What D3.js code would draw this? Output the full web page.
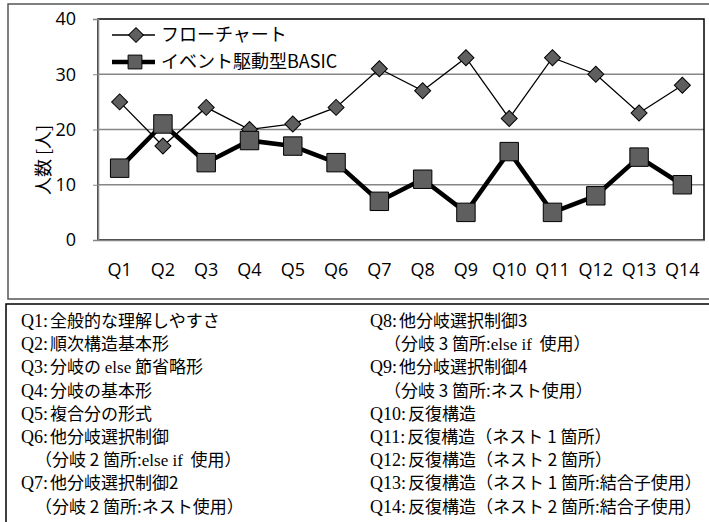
<!DOCTYPE html>
<html>
<head>
<meta charset="utf-8">
<script src="https://cdn.jsdelivr.net/npm/d3@7"></script>
<style>
  body { margin: 0; background: #fff; }
  svg { display: block; }
</style>
</head>
<body>
<div id="chart"></div>
<script>
const categories = ["Q1", "Q2", "Q3", "Q4", "Q5", "Q6", "Q7", "Q8", "Q9", "Q10", "Q11", "Q12", "Q13", "Q14"];
const flowchart = [25, 17, 24, 20, 21, 24, 31, 27, 33, 22, 33, 30, 23, 28];
const eventBasic = [13, 21, 14, 18, 17, 14, 7, 11, 5, 16, 5, 8, 15, 10];
const yTicks = [0, 10, 20, 30, 40];
const seriesNames = ["フローチャート", "イベント駆動型BASIC"];
const yLabel = "人数 [人]";

// notes below the chart: [label, text] (label null = continuation line)
const notesLeft = [
    ["Q1", "全般的な理解しやすさ"],
    ["Q2", "順次構造基本形"],
    ["Q3", "分岐の else 節省略形"],
    ["Q4", "分岐の基本形"],
    ["Q5", "複合分の形式"],
    ["Q6", "他分岐選択制御"],
    [null, "（分岐 2 箇所:else if  使用）"],
    ["Q7", "他分岐選択制御2"],
    [null, "（分岐 2 箇所:ネスト使用）"]
];
const notesRight = [
    ["Q8", "他分岐選択制御3"],
    [null, "（分岐 3 箇所:else if  使用）"],
    ["Q9", "他分岐選択制御4"],
    [null, "（分岐 3 箇所:ネスト使用）"],
    ["Q10", "反復構造"],
    ["Q11", "反復構造（ネスト 1 箇所）"],
    ["Q12", "反復構造（ネスト 2 箇所）"],
    ["Q13", "反復構造（ネスト 1 箇所:結合子使用）"],
    ["Q14", "反復構造（ネスト 2 箇所:結合子使用）"]
];

const W = 709, H = 522;
const plot = { left: 98, right: 704, top: 19, bottom: 240 };
const chartFont = "'Open Sans', 'Noto Sans CJK JP', sans-serif";
const jpFont = "'Noto Sans CJK JP', sans-serif";
const serifFont = "'Liberation Serif', 'DejaVu Serif', serif";
const markerFill = "#5f5f5f";

const svg = d3.select("#chart").append("svg")
    .attr("width", W)
    .attr("height", H);

// outer chart frame
svg.append("rect")
    .attr("x", 8).attr("y", 4)
    .attr("width", W + 10).attr("height", 295)
    .attr("fill", "none")
    .attr("stroke", "#555")
    .attr("stroke-width", 1.5);

const x = d3.scaleBand().domain(categories).range([plot.left, plot.right]);
const y = d3.scaleLinear().domain([0, 40]).range([plot.bottom, plot.top]);
const cx = c => x(c) + x.bandwidth() / 2;

// gridlines
svg.append("g")
    .selectAll("line")
    .data(yTicks.filter(t => t > 0 && t < 40))
    .enter().append("line")
    .attr("x1", plot.left).attr("x2", plot.right)
    .attr("y1", d => y(d)).attr("y2", d => y(d))
    .attr("stroke", "#868686")
    .attr("stroke-width", 1.5);

// plot area border
svg.append("rect")
    .attr("x", plot.left).attr("y", plot.top)
    .attr("width", plot.right - plot.left).attr("height", plot.bottom - plot.top)
    .attr("fill", "none")
    .attr("stroke", "#000")
    .attr("stroke-width", 1.5);

// y axis
const yAxisGroup = svg.append("g")
    .attr("transform", `translate(${plot.left},0)`)
    .call(d3.axisLeft(y).tickValues(yTicks).tickSize(5).tickPadding(17));
yAxisGroup.select(".domain").attr("stroke", "#868686").attr("stroke-width", 1.5);
yAxisGroup.selectAll("line").attr("stroke", "#868686");
yAxisGroup.selectAll("text")
    .style("font-family", chartFont)
    .style("font-size", "18px")
    .attr("fill", "#000");

// x axis
const xAxisGroup = svg.append("g")
    .attr("transform", `translate(0,${plot.bottom})`)
    .call(d3.axisBottom(x).tickSize(0).tickPadding(23));
xAxisGroup.select(".domain").attr("stroke", "#868686").attr("stroke-width", 1.5);
xAxisGroup.selectAll("text")
    .style("font-family", chartFont)
    .style("font-size", "18px")
    .attr("fill", "#000");

// y label
svg.append("text")
    .attr("transform", "translate(50,160) rotate(-90)")
    .attr("text-anchor", "middle")
    .style("font-family", jpFont)
    .style("font-size", "18px")
    .text(yLabel);

const diamond = d3.symbol().type(d3.symbolSquare).size(128);
const square = d3.symbol().type(d3.symbolSquare).size(340);

const line1 = d3.line().x((d, i) => cx(categories[i])).y(d => y(d));

// flowchart series
svg.append("path")
    .datum(flowchart)
    .attr("fill", "none")
    .attr("stroke", "#000")
    .attr("stroke-width", 1.3)
    .attr("d", line1);

// BASIC series
svg.append("path")
    .datum(eventBasic)
    .attr("fill", "none")
    .attr("stroke", "#000")
    .attr("stroke-width", 4.5)
    .attr("stroke-linejoin", "round")
    .attr("d", line1);

svg.append("g").selectAll("path")
    .data(flowchart)
    .enter().append("path")
    .attr("d", diamond)
    .attr("transform", (d, i) => `translate(${cx(categories[i])},${y(d)}) rotate(45)`)
    .attr("fill", markerFill)
    .attr("stroke", "#000")
    .attr("stroke-width", 1);

svg.append("g").selectAll("path")
    .data(eventBasic)
    .enter().append("path")
    .attr("d", square)
    .attr("transform", (d, i) => `translate(${cx(categories[i])},${y(d)})`)
    .attr("fill", markerFill)
    .attr("stroke", "#000")
    .attr("stroke-width", 1);

// legend
const legend = svg.append("g").attr("transform", "translate(112,35)");
legend.append("line")
    .attr("x1", 0).attr("x2", 43).attr("y1", 0).attr("y2", 0)
    .attr("stroke", "#000").attr("stroke-width", 1.3);
legend.append("path")
    .attr("d", d3.symbol().type(d3.symbolSquare).size(110))
    .attr("transform", "translate(24,0) rotate(45)")
    .attr("fill", markerFill).attr("stroke", "#000");
legend.append("line")
    .attr("x1", 0).attr("x2", 43).attr("y1", 27).attr("y2", 27)
    .attr("stroke", "#000").attr("stroke-width", 4.5);
legend.append("path")
    .attr("d", d3.symbol().type(d3.symbolSquare).size(190))
    .attr("transform", "translate(23,27)")
    .attr("fill", markerFill).attr("stroke", "#000");
legend.selectAll("text.lbl")
    .data(seriesNames)
    .enter().append("text")
    .attr("class", "lbl")
    .attr("x", 49)
    .attr("y", (d, i) => i * 27)
    .attr("dy", "0.35em")
    .style("font-family", jpFont)
    .style("font-size", "18px")
    .text(d => d);

// notes box
svg.append("rect")
    .attr("x", 6).attr("y", 304)
    .attr("width", W + 10).attr("height", H)
    .attr("fill", "none")
    .attr("stroke", "#000")
    .attr("stroke-width", 1.5);

const drawNotes = (notes, x0) => {
    const g = svg.append("g");
    notes.forEach((n, i) => {
        const t = g.append("text")
            .attr("x", n[0] ? x0 : x0 + 14)
            .attr("y", 327 + i * 23.2)
            .style("font-family", jpFont)
            .style("font-size", "17px");
        if (n[0]) {
            t.append("tspan").style("font-family", serifFont).style("font-size", "18px").text(n[0] + ":");
        }
        n[1].split(/(else if|else)/).forEach((part, k) => {
            if (!part) return;
            const s = t.append("tspan")
                .style("font-family", /^else/.test(part) ? serifFont : jpFont)
                .attr("xml:space", "preserve")
                .text(part);
            if (n[0] && k === 0) s.attr("dx", 2);
        });
    });
};
drawNotes(notesLeft, 21);
drawNotes(notesRight, 370);
</script>
</body>
</html>
